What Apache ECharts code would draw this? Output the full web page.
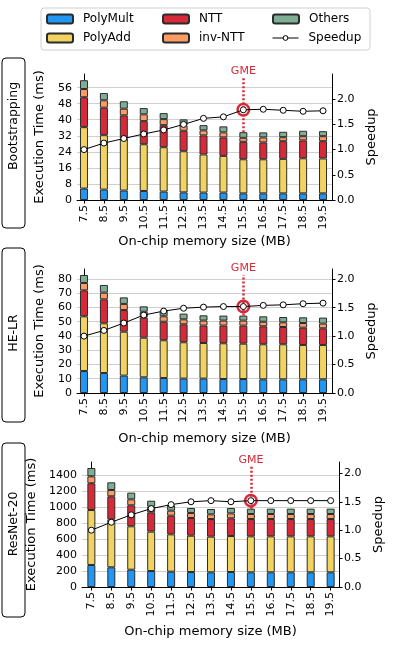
<!DOCTYPE html>
<html>
<head>
<meta charset="utf-8">
<script src="https://cdn.jsdelivr.net/npm/echarts@6/dist/echarts.min.js"></script>
<style>
  html, body { margin: 0; padding: 0; background: #fff; }
  #chart { width: 395px; height: 654px; }
</style>
</head>
<body>
<div id="chart"></div>
<script>
// memory sizes on the x axis
const memSizes = ["7.5", "8.5", "9.5", "10.5", "11.5", "12.5", "13.5", "14.5", "15.5", "16.5", "17.5", "18.5", "19.5"];
const gmeIndex = 8;

// Bootstrapping (ms)
const bootPolyMult = [5.7, 5.2, 4.7, 4.5, 4.2, 3.8, 3.7, 3.7, 3.3, 3.3, 3.3, 3.3, 3.3];
const bootPolyAdd = [30.6, 27.1, 26.1, 23.3, 22.1, 20.5, 19.0, 18.3, 17.0, 17.0, 17.2, 17.5, 17.4];
const bootNTT = [14.9, 13.7, 11.4, 11.5, 11.0, 10.2, 9.5, 9.2, 8.7, 8.4, 8.8, 8.9, 8.6];
const bootInvNTT = [4.1, 3.7, 3.3, 3.4, 3.0, 2.7, 2.5, 2.5, 2.0, 2.5, 2.0, 2.1, 2.5];
const bootOthers = [4.4, 3.6, 3.7, 3.1, 3.0, 3.0, 2.6, 3.0, 2.8, 2.5, 2.7, 2.7, 2.5];
const bootSpeedup = [1.0, 1.13, 1.22, 1.31, 1.39, 1.5, 1.62, 1.65, 1.79, 1.8, 1.78, 1.76, 1.77];

// HE-LR (ms)
const lrPolyMult = [15.4, 14.0, 12.2, 11.0, 10.5, 10.1, 10.1, 9.8, 9.8, 9.6, 9.6, 9.6, 9.6];
const lrPolyAdd = [38.4, 34.9, 30.8, 27.8, 26.5, 25.5, 25.0, 25.1, 24.8, 24.6, 24.6, 24.1, 24.1];
const lrNTT = [18.2, 16.8, 15.2, 14.1, 13.0, 12.6, 12.2, 12.4, 12.7, 12.6, 12.1, 12.1, 11.7];
const lrInvNTT = [5.2, 4.7, 4.3, 4.1, 3.8, 3.5, 3.5, 3.5, 3.5, 3.2, 3.3, 3.3, 3.3];
const lrOthers = [5.6, 5.4, 4.6, 3.8, 4.0, 4.0, 3.7, 3.5, 3.5, 3.8, 3.7, 4.0, 4.2];
const lrSpeedup = [1.0, 1.1, 1.23, 1.37, 1.44, 1.49, 1.51, 1.52, 1.52, 1.54, 1.55, 1.57, 1.58];

// ResNet-20 (ms)
const rnPolyMult = [276, 247, 217, 200, 192, 188, 184, 188, 184, 184, 184, 184, 184];
const rnPolyAdd = [689, 601, 544, 494, 468, 455, 447, 451, 451, 451, 451, 451, 451];
const rnNTT = [335, 289, 263, 242, 234, 222, 221, 222, 217, 217, 217, 217, 217];
const rnInvNTT = [87, 79, 75, 71, 63, 63, 59, 62, 63, 63, 63, 63, 63];
const rnOthers = [105, 96, 84, 75, 67, 62, 67, 67, 67, 67, 67, 67, 67];
const rnSpeedup = [1.0, 1.14, 1.27, 1.38, 1.45, 1.5, 1.52, 1.5, 1.52, 1.52, 1.52, 1.52, 1.52];

// tick labels
const bootTicks = [0, 8, 16, 24, 32, 40, 48, 56];
const lrTicks = [0, 10, 20, 30, 40, 50, 60, 70, 80];
const rnTicks = [0, 200, 400, 600, 800, 1000, 1200, 1400];
const speedupTicks = [0, 0.5, 1.0, 1.5, 2.0];

const compNames = ["PolyMult", "PolyAdd", "NTT", "inv-NTT", "Others"];
const compColors = ["#2196f3", "#f2d35f", "#d62a38", "#fd9b64", "#7fae94"];
const red = "#d62a38";
const font = "DejaVu Sans";

const panels = [
  {
    label: "Bootstrapping", comps: [bootPolyMult, bootPolyAdd, bootNTT, bootInvNTT, bootOthers],
    speedup: bootSpeedup, ticks: bootTicks, ymax: 62.8, smax: 2.5, gmeTop: 60.8,
    grid: { left: 77, top: 74, width: 255, height: 126 }, xmin: -0.35, xmax: 12.45,
    leftGap: 31, xGap: 35, box: [2, 58, 23, 170], textY: 126
  },
  {
    label: "HE-LR", comps: [lrPolyMult, lrPolyAdd, lrNTT, lrInvNTT, lrOthers],
    speedup: lrSpeedup, ticks: lrTicks, ymax: 87, smax: 2.18, gmeTop: 82.8,
    grid: { left: 77, top: 269, width: 255, height: 124 }, xmin: -0.35, xmax: 12.45,
    leftGap: 31, xGap: 39, box: [2, 248, 23, 174], textY: 333
  },
  {
    label: "ResNet-20", comps: [rnPolyMult, rnPolyAdd, rnNTT, rnInvNTT, rnOthers],
    speedup: rnSpeedup, ticks: rnTicks, ymax: 1567, smax: 2.2, gmeTop: 1507,
    grid: { left: 82, top: 462, width: 257, height: 125 }, xmin: -0.47, xmax: 12.42,
    leftGap: 43, xGap: 38, box: [2, 443, 23, 174], textY: 524
  }
];

const grid = [], xAxis = [], yAxis = [], series = [], graphic = [];

panels.forEach((p, k) => {
  grid.push(p.grid);
  xAxis.push({
    type: "value", gridIndex: k, min: p.xmin, max: p.xmax,
    name: "On-chip memory size (MB)", nameLocation: "middle", nameGap: p.xGap,
    nameTextStyle: { fontFamily: font, fontSize: 13, color: "#000" },
    axisLine: { onZero: false, lineStyle: { color: "#000", width: 1 } },
    axisTick: { customValues: memSizes.map((_, i) => i), length: 3.5, lineStyle: { color: "#000" } },
    axisLabel: {
      customValues: memSizes.map((_, i) => i), rotate: 90, margin: 5,
      formatter: v => memSizes[Math.round(v)], fontFamily: font, fontSize: 11, color: "#000"
    },
    splitLine: { show: false }
  });
  yAxis.push({
    type: "value", gridIndex: k, min: 0, max: p.ymax, position: "left",
    name: "Execution Time (ms)", nameLocation: "middle", nameGap: p.leftGap, nameRotate: 90,
    nameTextStyle: { fontFamily: font, fontSize: 13, color: "#000" },
    axisLine: { show: true, lineStyle: { color: "#000", width: 1 } },
    axisTick: { show: true, customValues: p.ticks, length: 3.5, lineStyle: { color: "#000" } },
    axisLabel: { customValues: p.ticks, margin: 5, formatter: v => String(v), fontFamily: font, fontSize: 11, color: "#000" },
    splitLine: { show: true, lineStyle: { color: "#cfcfcf", width: 1 } }
  });
  yAxis.push({
    type: "value", gridIndex: k, min: 0, max: p.smax, position: "right",
    name: "Speedup", nameLocation: "middle", nameGap: 30, nameRotate: 90,
    nameTextStyle: { fontFamily: font, fontSize: 13, color: "#000" },
    axisLine: { show: true, lineStyle: { color: "#000", width: 1 } },
    axisTick: { show: true, customValues: speedupTicks, length: 3.5, lineStyle: { color: "#000" } },
    axisLabel: { customValues: speedupTicks, margin: 5, formatter: v => v.toFixed(1), fontFamily: font, fontSize: 11, color: "#000" },
    splitLine: { show: false }
  });

  const totalAtGme = p.comps.reduce((s, c) => s + c[gmeIndex], 0);
  p.comps.forEach((vals, j) => {
    // value first so the stack runs along y (stacked by index)
    const s = {
      name: compNames[j], type: "bar", stack: "t" + k,
      xAxisIndex: k, yAxisIndex: 2 * k, barWidth: 8,
      encode: { x: 1, y: 0 },
      itemStyle: { color: compColors[j], borderColor: "#2b2b2b", borderWidth: 1 },
      data: vals.map((v, i) => [v, i])
    };
    if (j === 4) {
      s.markLine = {
        silent: true, symbol: "none",
        lineStyle: { color: red, type: [2, 2], width: 2.5 },
        label: { show: true, position: "end", formatter: "GME", color: red, fontFamily: font, fontSize: 11, distance: 1 },
        data: [[{ coord: [gmeIndex, totalAtGme] }, { coord: [gmeIndex, p.gmeTop] }]]
      };
    }
    series.push(s);
  });
  series.push({
    name: "Speedup", type: "line", xAxisIndex: k, yAxisIndex: 2 * k + 1, z: 5,
    symbol: "circle", symbolSize: 6,
    lineStyle: { color: "#000", width: 1 },
    itemStyle: { color: "#fff", borderColor: "#000", borderWidth: 1 },
    data: p.speedup.map((v, i) => [i, v]),
    markPoint: {
      silent: true, symbol: "circle", symbolSize: 11.5, label: { show: false },
      itemStyle: { color: "rgba(0,0,0,0)", borderColor: red, borderWidth: 2.5 },
      data: [{ coord: [gmeIndex, p.speedup[gmeIndex]] }]
    }
  });

  // rounded box with the workload name
  graphic.push({
    type: "rect", shape: { x: p.box[0], y: p.box[1], width: p.box[2], height: p.box[3], r: 4 },
    style: { fill: "#fff", stroke: "#000", lineWidth: 1 }
  });
  graphic.push({
    type: "text", x: p.box[0] + p.box[2] / 2, y: p.textY, rotation: Math.PI / 2,
    style: { text: p.label, fontFamily: font, fontSize: 12.5, fill: "#000", align: "center", verticalAlign: "middle" }
  });
});

// legend frame
graphic.push({
  type: "rect", shape: { x: 41, y: 8, width: 329, height: 42, r: 3 },
  style: { fill: "#fff", stroke: "#d0d0d0", lineWidth: 1 }, z: -1
});

const legendBase = {
  orient: "vertical", top: 12, itemWidth: 26, itemHeight: 9, itemGap: 5, padding: 0,
  selectedMode: false,
  textStyle: { fontFamily: font, fontSize: 12, color: "#000", padding: [0, 0, 0, 5], lineHeight: 14 }
};

const option = {
  animation: false,
  backgroundColor: "#fff",
  legend: [
    Object.assign({}, legendBase, { left: 46, data: ["PolyMult", "PolyAdd"] }),
    Object.assign({}, legendBase, { left: 162, data: ["NTT", "inv-NTT"] }),
    Object.assign({}, legendBase, { left: 272, data: ["Others"] }),
    Object.assign({}, legendBase, {
      left: 272, top: 31, itemHeight: 6,
      data: [{ name: "Speedup", lineStyle: { width: 1 }, itemStyle: { borderWidth: 1 } }]
    })
  ],
  grid, xAxis, yAxis, series, graphic
};

const chart = echarts.init(document.getElementById("chart"), null, { renderer: "canvas" });
chart.setOption(option);
</script>
</body>
</html>
